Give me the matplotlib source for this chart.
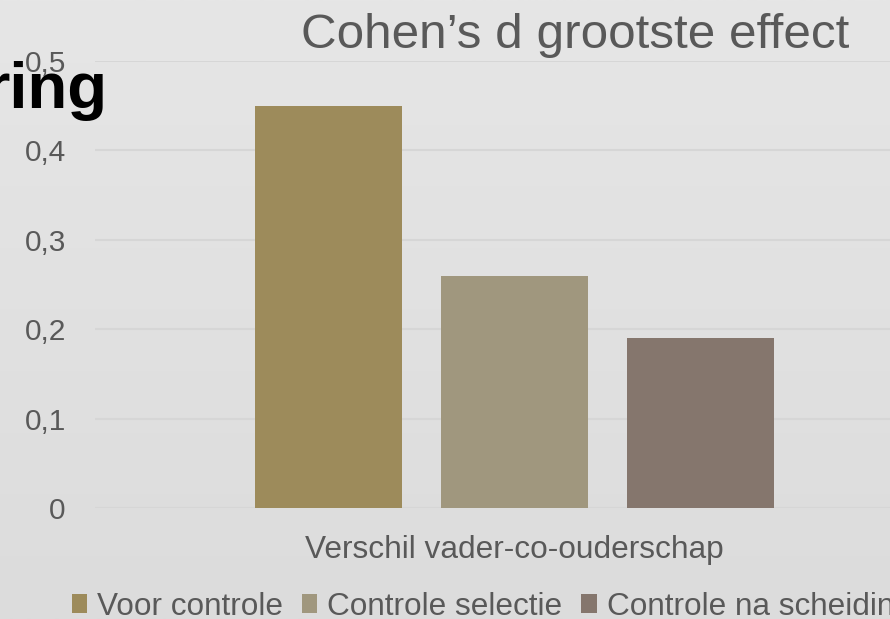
import numpy as np
import matplotlib
matplotlib.use('Agg')
import matplotlib.pyplot as plt
from matplotlib.colors import LinearSegmentedColormap

plt.rcParams['font.family'] = ['Liberation Sans', 'DejaVu Sans']

# data
category = 'Verschil vader-co-ouderschap'
series = ['Voor controle', 'Controle selectie', 'Controle na scheiding']
values = [0.45, 0.26, 0.19]
colors = ['#9d8b5b', '#a0977e', '#85766d']
yticks = [0, 0.1, 0.2, 0.3, 0.4, 0.5]

W, H = 890, 619
fig = plt.figure(figsize=(W / 100, H / 100), dpi=100)

# background gradient
bg = fig.add_axes([0, 0, 1, 1], zorder=-10)
grad = np.linspace(0, 1, 256).reshape(-1, 1)
cmap = LinearSegmentedColormap.from_list('bg', ['#e6e6e6', '#dcdcdc'])
bg.imshow(grad, aspect='auto', cmap=cmap, extent=[0, 1, 0, 1])
bg.axis('off')

ax = fig.add_axes([95 / W, 111 / H, 839 / W, 447 / H])
ax.set_facecolor('none')

offsets = [-0.2217, 0, 0.2217]
bars = []
for off, v, c, s in zip(offsets, values, colors, series):
    b = ax.bar(off, v, width=0.175, color=c, label=s, zorder=3)
    bars.append(b)

ax.set_xlim(-0.5, 0.5)
ax.set_ylim(0, 0.5)
ax.set_yticks(yticks)
ax.set_yticklabels([('%g' % t).replace('.', ',') for t in yticks],
                   fontsize=21.5, color='#595959')
ax.tick_params(axis='y', length=0, pad=21)
ax.set_xticks([])
ax.grid(axis='y', color='#d6d6d6', linewidth=1.5, zorder=0)
for sp in ax.spines.values():
    sp.set_visible(False)

fig.text(514 / W, 1 - 550 / H, category, ha='center', va='center',
         fontsize=22.8, color='#595959')

fig.text(575 / W, 1 - 48 / H, 'Cohen\u2019s d grootste effect', ha='center',
         va='baseline', fontsize=35.6, color='#595959')

# slide title leaking in from the left
fig.text(108 / W, 1 - 108 / H, 'ring', ha='right', va='baseline',
         fontsize=47, fontweight='bold', color='black', zorder=-5)

leg = fig.legend(handles=[b[0] for b in bars], labels=series, ncol=3,
                 loc='lower left', bbox_to_anchor=(72 / W, -3 / H),
                 frameon=False, fontsize=22.7, borderpad=0, borderaxespad=0,
                 handlelength=0.48, handleheight=0.55, handletextpad=0.32,
                 columnspacing=0.6, labelcolor='#595959')

fig.savefig('out.png', dpi=100)
